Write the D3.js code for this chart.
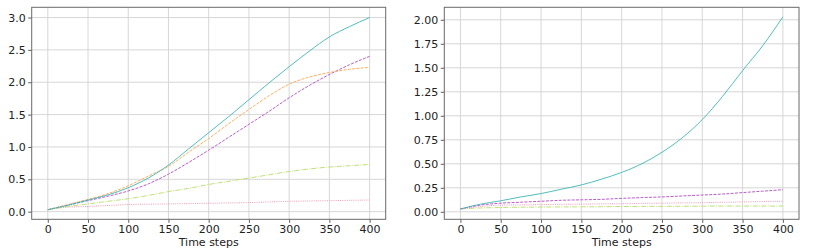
<!DOCTYPE html>
<html>
<head>
<meta charset="utf-8">
<script src="https://cdn.jsdelivr.net/npm/d3@7"></script>
<style>
  body { margin: 0; background: #fff; }
  text { font-family: "DejaVu Sans", sans-serif; }
</style>
</head>
<body>
<svg id="main" width="830" height="251"></svg>
<script>
// time steps shared by every series
const steps = [0, 25, 50, 75, 100, 125, 150, 175, 200, 225, 250, 275, 300, 325, 350, 375, 400];
const xTicks = [0, 50, 100, 150, 200, 250, 300, 350, 400];

// left panel
const leftTeal   = [0.03, 0.10, 0.18, 0.26, 0.37, 0.52, 0.72, 0.97, 1.22, 1.47, 1.73, 1.99, 2.24, 2.48, 2.70, 2.86, 3.00];
const leftOrange = [0.03, 0.11, 0.19, 0.28, 0.40, 0.55, 0.70, 0.92, 1.13, 1.36, 1.58, 1.79, 1.97, 2.08, 2.15, 2.20, 2.23];
const leftPurple = [0.03, 0.10, 0.17, 0.24, 0.32, 0.43, 0.58, 0.76, 0.95, 1.15, 1.35, 1.55, 1.76, 1.95, 2.12, 2.27, 2.40];
const leftGreen  = [0.03, 0.08, 0.12, 0.16, 0.20, 0.25, 0.31, 0.36, 0.42, 0.47, 0.52, 0.57, 0.62, 0.66, 0.69, 0.71, 0.73];
const leftPink   = [0.03, 0.07, 0.08, 0.095, 0.11, 0.115, 0.12, 0.125, 0.13, 0.135, 0.14, 0.15, 0.16, 0.165, 0.17, 0.175, 0.18];
const leftYTicks = [0.0, 0.5, 1.0, 1.5, 2.0, 2.5, 3.0];

// right panel
const rightTeal   = [0.03, 0.08, 0.115, 0.155, 0.19, 0.235, 0.28, 0.34, 0.41, 0.50, 0.62, 0.77, 0.96, 1.20, 1.47, 1.73, 2.03];
const rightPurple = [0.03, 0.07, 0.09, 0.10, 0.11, 0.12, 0.125, 0.13, 0.14, 0.148, 0.155, 0.165, 0.175, 0.185, 0.20, 0.215, 0.23];
const rightPink   = [0.03, 0.055, 0.07, 0.072, 0.075, 0.078, 0.08, 0.083, 0.085, 0.088, 0.09, 0.093, 0.095, 0.099, 0.103, 0.107, 0.11];
const rightGreen  = [0.03, 0.04, 0.045, 0.048, 0.05, 0.051, 0.052, 0.053, 0.055, 0.056, 0.057, 0.058, 0.059, 0.06, 0.06, 0.06, 0.06];
const rightYTicks = [0.00, 0.25, 0.50, 0.75, 1.00, 1.25, 1.50, 1.75, 2.00];

const styles = {
  teal:   {color: "#3fb5b5", dash: null},
  orange: {color: "#ffa64d", dash: "3,1.3"},
  purple: {color: "#b04cc4", dash: "3,1.3"},
  green:  {color: "#b8dc66", dash: "5,1.3,1,1.3"},
  pink:   {color: "#f08cb0", dash: "1,1.2"}
};

const svg = d3.select("#main");

function drawPanel(box, yDomain, yTicks, yFmt, series) {
  const x = d3.scaleLinear().domain([-20, 420]).range([box.left, box.right]);
  const y = d3.scaleLinear().domain(yDomain).range([box.bottom, box.top]);
  const g = svg.append("g");

  // grid
  g.selectAll(".gx").data(xTicks).enter().append("line")
    .attr("x1", d => x(d)).attr("x2", d => x(d))
    .attr("y1", box.top).attr("y2", box.bottom)
    .attr("stroke", "#d3d3d3").attr("stroke-width", 0.9);
  g.selectAll(".gy").data(yTicks).enter().append("line")
    .attr("x1", box.left).attr("x2", box.right)
    .attr("y1", d => y(d)).attr("y2", d => y(d))
    .attr("stroke", "#d3d3d3").attr("stroke-width", 0.9);

  // lines
  const line = d3.line()
    .x((d, i) => x(steps[i]))
    .y(d => y(d))
    .curve(d3.curveMonotoneX);
  series.forEach(s => {
    g.append("path")
      .datum(s.values)
      .attr("d", line)
      .attr("fill", "none")
      .attr("stroke", styles[s.style].color)
      .attr("stroke-width", 0.9)
      .attr("stroke-dasharray", styles[s.style].dash);
  });

  // axes
  const xAxis = g.append("g")
    .attr("transform", "translate(0," + box.bottom + ")")
    .call(d3.axisBottom(x).tickValues(xTicks).tickSize(3.5).tickPadding(2.5));
  const yAxis = g.append("g")
    .attr("transform", "translate(" + box.left + ",0)")
    .call(d3.axisLeft(y).tickValues(yTicks).tickFormat(d3.format(yFmt)).tickSize(3.5).tickPadding(2.5));
  [xAxis, yAxis].forEach(a => {
    a.select(".domain").remove();
    a.selectAll("line").attr("stroke", "#333").attr("stroke-width", 0.8);
    a.selectAll("text").attr("font-size", 11).attr("fill", "#222")
      .attr("font-family", "DejaVu Sans, sans-serif");
  });

  // frame
  g.append("rect")
    .attr("x", box.left).attr("y", box.top)
    .attr("width", box.right - box.left).attr("height", box.bottom - box.top)
    .attr("fill", "none").attr("stroke", "#6a6a6a").attr("stroke-width", 1);

  g.append("text")
    .attr("x", (box.left + box.right) / 2)
    .attr("y", box.bottom + 26.5)
    .attr("text-anchor", "middle")
    .attr("font-size", 11).attr("fill", "#222")
    .text("Time steps");
}

drawPanel({left: 31.7, right: 385.7, top: 7.3, bottom: 219.3}, [-0.118, 3.158], leftYTicks, ".1f", [
  {values: leftPink, style: "pink"},
  {values: leftGreen, style: "green"},
  {values: leftPurple, style: "purple"},
  {values: leftOrange, style: "orange"},
  {values: leftTeal, style: "teal"}
]);

drawPanel({left: 444.3, right: 799, top: 7.3, bottom: 219.3}, [-0.078, 2.130], rightYTicks, ".2f", [
  {values: rightGreen, style: "green"},
  {values: rightPink, style: "pink"},
  {values: rightPurple, style: "purple"},
  {values: rightTeal, style: "teal"}
]);
</script>
</body>
</html>
